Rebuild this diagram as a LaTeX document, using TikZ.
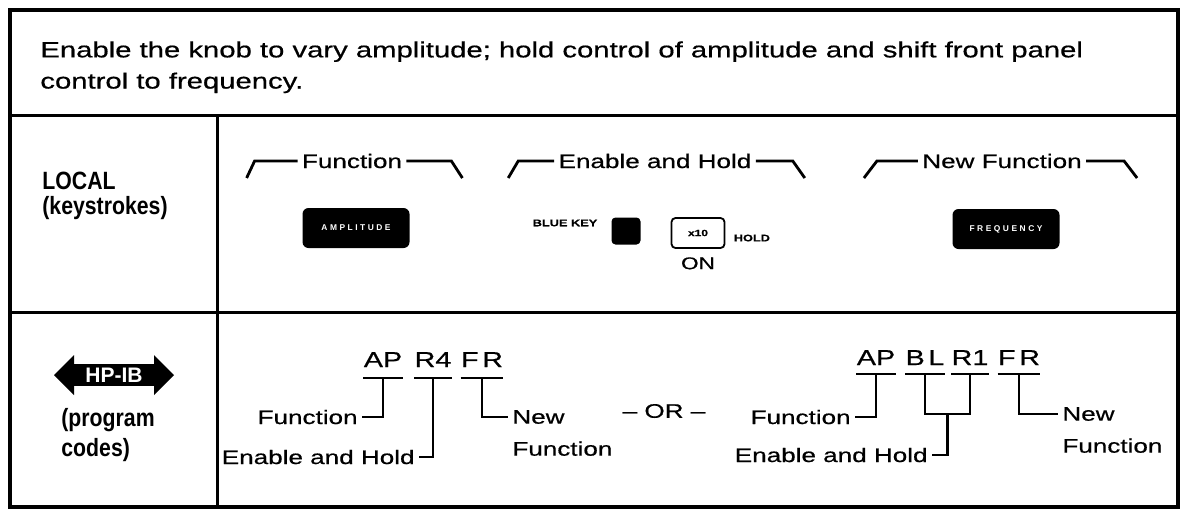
\documentclass[tikz,border=0pt]{standalone}
\usepackage{fontspec}
\setmainfont{Liberation Sans}
\newfontfamily\hpfont[FakeStretch=1.33, FakeBold=0.6]{Liberation Sans}
\newfontfamily\hdrfont[FakeStretch=0.85]{Liberation Sans}
\usetikzlibrary{shapes.arrows, positioning, calc}

\begin{document}
\begin{tikzpicture}[
    x=0.5pt, y=-0.5pt,
    frame/.style={line width=2.2pt},
    rule/.style={line width=1.5pt},
    lead/.style={line width=1.4pt},
    intro/.style={font=\hpfont\fontsize{11}{15.6}\selectfont, align=left, inner sep=0pt},
    lbl/.style={font=\hpfont\fontsize{9.8}{16}\selectfont, inner sep=2pt},
    code/.style={font=\hpfont\fontsize{10.8}{13}\selectfont, inner sep=0pt, anchor=base},
    head/.style={font=\hdrfont\bfseries\fontsize{12.5}{12.5}\selectfont, align=left, inner sep=0pt, anchor=north west},
    keycap/.style={rectangle, rounded corners=3pt, fill=black, text=white, minimum width=53.5pt, minimum height=20pt, font=\bfseries\fontsize{4.2}{5}\selectfont\addfontfeatures{LetterSpace=30}},
    bluekey/.style={rectangle, rounded corners=2pt, fill=black, minimum width=14.5pt, minimum height=13.5pt, inner sep=0pt},
    softkey/.style={rectangle, rounded corners=2pt, draw=black, line width=0.9pt, minimum width=26.5pt, minimum height=15pt, inner sep=0pt, font=\hpfont\bfseries\fontsize{4.5}{5}\selectfont},
    tag/.style={font=\hpfont\bfseries\fontsize{4.8}{5}\selectfont, inner sep=0pt},
    hpib/.style={double arrow, double arrow head extend=4.5pt, fill=black, text=white, minimum height=60pt, minimum width=20pt, inner sep=1.5pt, font=\bfseries\fontsize{10.5}{10.5}\selectfont}
]
    \useasboundingbox (0,0) rectangle (1186,510);

    % table frame
    \draw[frame] (10,10) rectangle (1178,507);
    \draw[rule] (10,115) -- (1178,115);
    \draw[rule] (10,312) -- (1178,312);
    \draw[rule] (217,115) -- (217,507);

    \node[intro, anchor=north west] (text) at (40,41) {Enable the knob to vary amplitude; hold control of amplitude and shift front panel\\control to frequency.};

    % left column
    \node[head] (local) at (42,172) {LOCAL\\(keystrokes)};
    \node[hpib] (hpib) at (114,375) {HP-IB};
    \node[head] (prog) at (61,408) {(program\\[2.5pt]codes)};

    % keystrokes
    \node[lbl] (brF) at (352,161) {Function};
    \draw[lead] (brF.west) -- ++(-43,0) -- ++(-8,17);
    \draw[lead] (brF.east) -- ++(45,0) -- ++(11,17);
    \node[lbl] (brEH) at (655,161) {Enable and Hold};
    \draw[lead] (brEH.west) -- ++(-36,0) -- ++(-10,17);
    \draw[lead] (brEH.east) -- ++(37,0) -- ++(12,17);
    \node[lbl] (brNF) at (1002,161) {New Function};
    \draw[lead] (brNF.west) -- ++(-41,0) -- ++(-13,17);
    \draw[lead] (brNF.east) -- ++(38,0) -- ++(13,17);

    \node[keycap] (ampl) at (356,228) {AMPLITUDE};
    \node[tag] (bluetxt) at (565,223) {BLUE KEY};
    \node[bluekey] (blue) at (626,231) {};
    \node[softkey] (x10) at (698,233) {x10};
    \node[tag, right=4pt of x10, yshift=-2.5pt] (hold) {HOLD};
    \node[lbl, font=\hpfont\fontsize{8.5}{9}\selectfont, below=2pt of x10] (on) {ON};
    \node[keycap] (freq) at (1006,229) {FREQUENCY};

    % program codes, first form
    \node[code] (apA) at (383,367) {AP};
    \node[code] (r4A) at (433,367) {R4};
    \node[code] (frA) at (482,367) {F\,R};
    \foreach \c in {apA, r4A, frA}
        \draw[lead] ([yshift=-5.5pt]\c.base west) -- ([yshift=-5.5pt]\c.base east);
    \node[lbl, anchor=east] (fnA) at (362,417) {Function};
    \draw[lead] ([yshift=-5.5pt]apA.base) |- (fnA.east);
    \node[lbl, anchor=east] (ehA) at (419,457) {Enable and Hold};
    \draw[lead] ([yshift=-5.5pt]r4A.base) |- (ehA.east);
    \node[lbl, anchor=west] (nwA) at (508,417) {New};
    \node[lbl, anchor=base west] (nfA) at ($(nwA.base west)+(0,32)$) {Function};
    \draw[lead] ([yshift=-5.5pt]frA.base) |- (nwA.west);

    \node[lbl] (or) at (664,411) {– OR –};

    % program codes, second form
    \node[code] (apB) at (876,365) {AP};
    \node[code] (blB) at (925,365) {B\,L};
    \node[code] (r1B) at (970,365) {R1};
    \node[code] (frB) at (1019,365) {F\,R};
    \foreach \c in {apB, blB, r1B, frB}
        \draw[lead] ([yshift=-4.5pt]\c.base west) -- ([yshift=-4.5pt]\c.base east);
    \node[lbl, anchor=east] (fnB) at (855,417) {Function};
    \draw[lead] ([yshift=-4.5pt]apB.base) |- (fnB.east);
    \coordinate (joinB) at ($(blB.base)!0.5!(r1B.base)+(0,49)$);
    \draw[lead] ([yshift=-4.5pt]blB.base) |- (joinB) -| ([yshift=-4.5pt]r1B.base);
    \node[lbl, anchor=east] (ehB) at (932,455) {Enable and Hold};
    \draw[lead] (joinB) |- (ehB.east);
    \node[lbl, anchor=west] (nwB) at (1058,414) {New};
    \node[lbl, anchor=base west] (nfB) at ($(nwB.base west)+(0,32)$) {Function};
    \draw[lead] ([yshift=-4.5pt]frB.base) |- (nwB.west);

\end{tikzpicture}
\end{document}
